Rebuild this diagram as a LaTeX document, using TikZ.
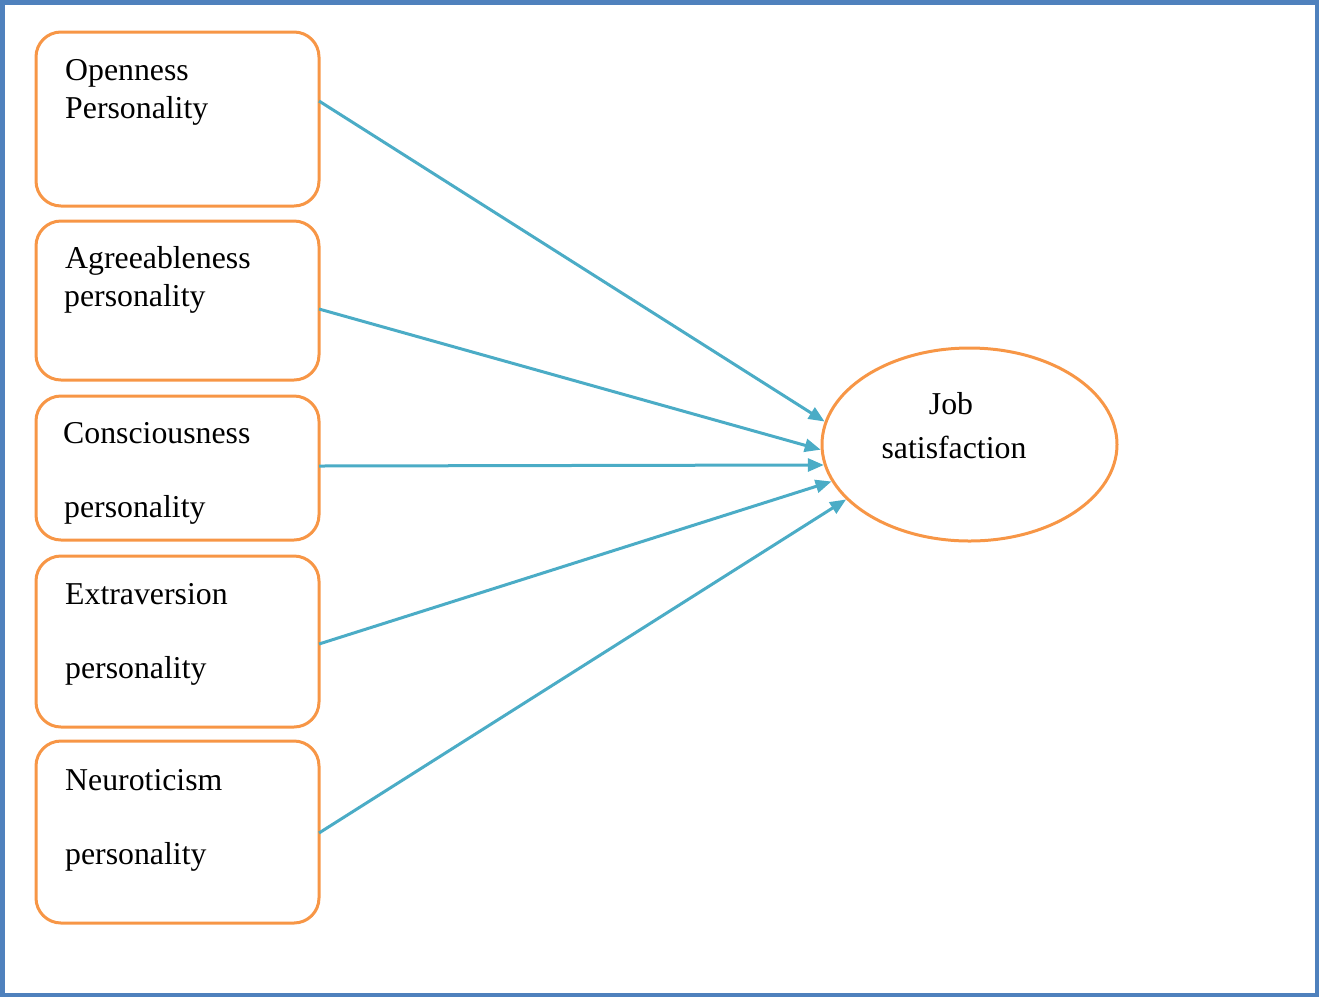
\documentclass[tikz,border=0pt]{standalone}
\usepackage{fontspec}
\setmainfont{Liberation Serif}
\usetikzlibrary{shapes.geometric,arrows.meta}
\definecolor{frameblue}{HTML}{4F81BD}
\definecolor{boxorange}{HTML}{F79646}
\definecolor{arrowblue}{HTML}{4BACC6}
\tikzset{
  pbox/.style={draw=boxorange,line width=3pt,rounded corners=25pt,fill=white},
  lbl/.style={anchor=base west,inner sep=0pt,font=\fontsize{31.8}{38}\selectfont},
  clbl/.style={anchor=base,inner sep=0pt,font=\fontsize{31.8}{38}\selectfont},
  conn/.style={draw=arrowblue,line width=3pt,-{Triangle[length=16pt,width=13pt]}},
}
\begin{document}
\begin{tikzpicture}[x=1pt,y=-1pt]
\useasboundingbox (0,0) rectangle (1319,997);
\draw[frameblue,line width=4.5pt] (2.25,2.25) rectangle (1316.75,994.75);
% boxes
\draw[pbox] (36,32) rectangle (319,206);
\node[inner sep=0pt] (b1) at (177.5,119) {};
\coordinate (b1e) at (319,101);
\draw[pbox] (36,221) rectangle (319,380);
\coordinate (b2e) at (319,309);
\draw[pbox] (36,396) rectangle (319,540);
\coordinate (b3e) at (319,466);
\draw[pbox] (36,556) rectangle (319,727);
\coordinate (b4e) at (319,644);
\draw[pbox] (36,741) rectangle (319,923);
\coordinate (b5e) at (319,833);
% labels
\node[lbl] (t1a) at (65,80) {Openness};
\node[lbl] (t1b) at (65,118) {Personality};
\node[lbl] (t2a) at (65,268) {Agreeableness};
\node[lbl] (t2b) at (64,306) {personality};
\node[lbl] (t3a) at (63,443) {Consciousness};
\node[lbl] (t3b) at (64,517) {personality};
\node[lbl] (t4a) at (65,604) {Extraversion};
\node[lbl] (t4b) at (65,678) {personality};
\node[lbl] (t5a) at (65,790) {Neuroticism};
\node[lbl] (t5b) at (65,864) {personality};
% ellipse
\node[ellipse,draw=boxorange,line width=3pt,minimum width=295pt,minimum height=193pt,inner sep=0pt] (js) at (969.5,444.5) {};
\node[clbl] (j1) at (951,414) {Job};
\node[clbl] (j2) at (954,458) {satisfaction};
% connectors
\draw[conn] (b1e) -- (js.171.5);
\draw[conn] (b2e) -- (js.182.3);
\draw[conn] (b3e) -- (js.188.5);
\draw[conn] (b4e) -- (js.195.2);
\draw[conn] (b5e) -- (js.204.3);
\end{tikzpicture}
\end{document}
